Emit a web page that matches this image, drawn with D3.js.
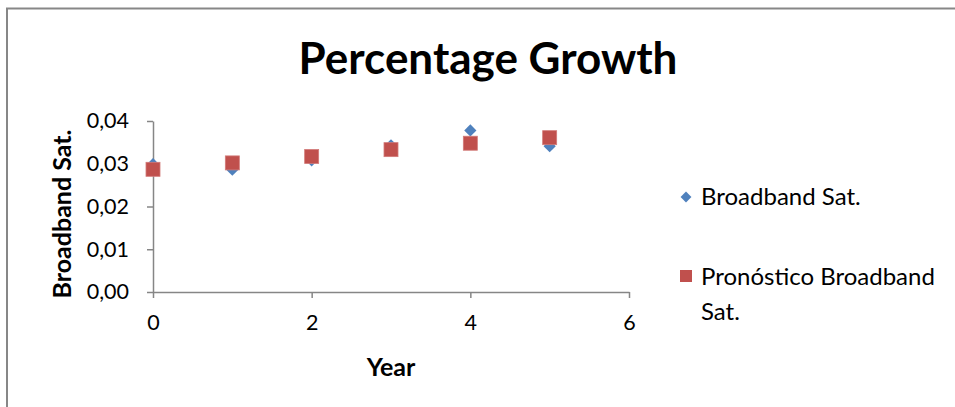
<!DOCTYPE html>
<html>
<head>
<meta charset="utf-8">
<script src="https://cdn.jsdelivr.net/npm/d3@7"></script>
<style>
  html, body { margin: 0; padding: 0; background: #fff; }
  svg { display: block; font-family: Lato, "Open Sans", sans-serif; }
</style>
</head>
<body>
<svg id="chart" width="955" height="407"></svg>
<script>
// Observed values and forecast, one point per year
const years = [0, 1, 2, 3, 4, 5];
const broadbandSat = [0.0299, 0.0286, 0.0308, 0.0343, 0.0378, 0.0341];
const forecastSat = [0.0287, 0.0302, 0.0317, 0.0333, 0.0348, 0.0361];
const xTickValues = [0, 2, 4, 6];
const yTickValues = [0, 0.01, 0.02, 0.03, 0.04];
const seriesNames = ["Broadband Sat.", "Pronóstico Broadband Sat."];

const svg = d3.select("#chart");
const plot = { left: 153, right: 629, top: 121, bottom: 292 };

const axisGray = "#868686";
const blue = "#4F81BD";
const red = "#C0504D";

// Chart frame
svg.append("rect")
  .attr("x", 7).attr("y", 8.5)
  .attr("width", 980).attr("height", 430)
  .attr("fill", "#fff")
  .attr("stroke", "#878787").attr("stroke-width", 2);

const x = d3.scaleLinear().domain([0, 6]).range([plot.left, plot.right]);
const y = d3.scaleLinear().domain([0, 0.04]).range([plot.bottom, plot.top]);

const comma = d3.formatLocale({ decimal: ",", thousands: ".", grouping: [3], currency: ["", ""] });
const yFmt = comma.format(".2f");

// Title
svg.append("text")
  .attr("x", 488).attr("y", 74)
  .attr("text-anchor", "middle")
  .attr("font-weight", "bold")
  .attr("font-size", 44)
  .attr("fill", "#000")
  .text("Percentage Growth");

// Y axis
const gy = svg.append("g")
  .attr("transform", `translate(${plot.left},0)`)
  .call(d3.axisLeft(y).tickValues(yTickValues).tickFormat(yFmt).tickSizeInner(6).tickSizeOuter(0).tickPadding(18));
gy.select(".domain").attr("stroke", axisGray).attr("stroke-width", 1.5);
gy.selectAll(".tick line").attr("stroke", axisGray).attr("stroke-width", 1.5);
gy.selectAll(".tick text").attr("font-size", 21.5).attr("fill", "#000").attr("font-family", "Lato, sans-serif");

// X axis
const gx = svg.append("g")
  .attr("transform", `translate(0,${plot.bottom})`)
  .call(d3.axisBottom(x).tickValues(xTickValues).tickFormat(d3.format("d")).tickSizeInner(6).tickSizeOuter(0).tickPadding(17));
gx.select(".domain").attr("stroke", axisGray).attr("stroke-width", 1.5);
gx.selectAll(".tick line").attr("stroke", axisGray).attr("stroke-width", 1.5);
gx.selectAll(".tick text").attr("font-size", 21.5).attr("fill", "#000").attr("font-family", "Lato, sans-serif");

// Axis titles
svg.append("text")
  .attr("x", 391).attr("y", 376)
  .attr("text-anchor", "middle")
  .attr("font-weight", "bold").attr("font-size", 25)
  .text("Year");

svg.append("text")
  .attr("transform", "translate(71,214) rotate(-90)")
  .attr("text-anchor", "middle")
  .attr("font-weight", "bold").attr("font-size", 25)
  .text("Broadband Sat.");

// Markers
const diamond = d3.symbol().type(d3.symbolDiamond2).size(95);
const ptsA = years.map((yr, i) => ({ yr, v: broadbandSat[i] }));
const ptsB = years.map((yr, i) => ({ yr, v: forecastSat[i] }));

svg.append("g").selectAll("path")
  .data(ptsA).join("path")
  .attr("d", diamond)
  .attr("transform", d => `translate(${x(d.yr)},${y(d.v)})`)
  .attr("fill", blue);

const sq = 14;
svg.append("g").selectAll("rect")
  .data(ptsB).join("rect")
  .attr("x", d => x(d.yr) - sq / 2)
  .attr("y", d => y(d.v) - sq / 2)
  .attr("width", sq).attr("height", sq)
  .attr("fill", red)
  .attr("stroke", "#d27a78").attr("stroke-width", 0.8);

// Legend
const lg = svg.append("g");
lg.append("path")
  .attr("d", d3.symbol().type(d3.symbolDiamond2).size(75))
  .attr("transform", "translate(686,197)")
  .attr("fill", blue);
lg.append("text")
  .attr("x", 701).attr("y", 205)
  .attr("font-size", 24)
  .text(seriesNames[0]);

lg.append("rect")
  .attr("x", 680).attr("y", 270)
  .attr("width", 12).attr("height", 12)
  .attr("fill", red);
const t2 = lg.append("text").attr("font-size", 24);
t2.append("tspan").attr("x", 701).attr("y", 285).text("Pronóstico Broadband");
t2.append("tspan").attr("x", 701).attr("y", 320).text("Sat.");
</script>
</body>
</html>
